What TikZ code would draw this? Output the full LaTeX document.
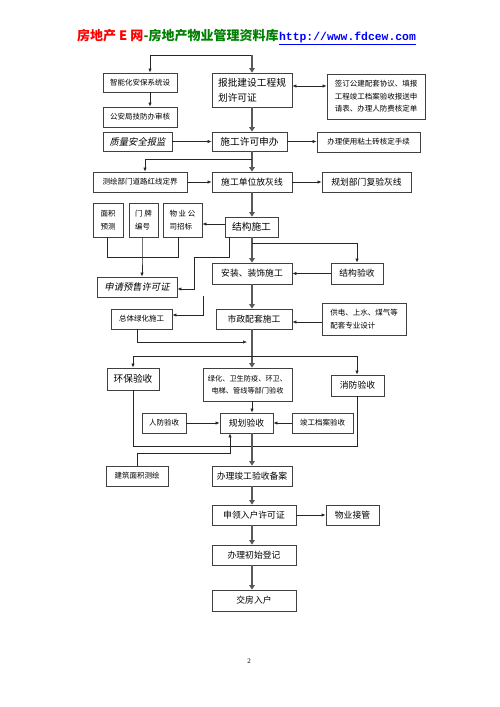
\documentclass[tikz,border=0pt]{standalone}
\usepackage{fontspec}
\setmainfont{Noto Sans CJK SC}
\newfontfamily\cjkit[FakeSlant=0.2]{Noto Sans CJK SC}
\newfontfamily\monof{Liberation Mono}
\newfontfamily\sernum{Liberation Serif}
\usetikzlibrary{arrows.meta,calc}
\tikzset{
  bx/.style={draw=black!75, line width=0.7pt, inner sep=1pt, align=center, fill=white},
  sm/.style={font=\fontsize{7.5}{12.5}\selectfont},
  md/.style={font=\fontsize{8.8}{12.5}\selectfont},
  lg/.style={font=\fontsize{9.7}{15}\selectfont},
  itl/.style={font=\cjkit\fontsize{9.3}{12}\selectfont},
  ln/.style={draw=black!85, line width=0.6pt},
  arr/.style={-{Latex[length=4pt,width=3.2pt]}},
  darr/.style={{Latex[length=4pt,width=3.2pt]}-{Latex[length=4pt,width=3.2pt]}},
  thk/.style={draw=black!65, line width=2.2pt, -{Triangle[length=4.5pt,width=5.5pt]}},
}
\newcommand\bx[7]{\node[bx,#7,minimum width={(#4-#2)*1pt},minimum height={(#5-#3)*1pt}] (#1) at ({(#2+#4)/2},{(#3+#5)/2}) {#6};}
\begin{document}
\begin{tikzpicture}[x=1pt,y=-1pt]
\fill[white] (0,0) rectangle (500,707);
\useasboundingbox (0,0) rectangle (500,707);
% header
\node[anchor=base west, inner sep=0, text=red, font=\bfseries\fontsize{13}{13}\selectfont] (hd1) at (77,40) {房地产 E 网};
\node[anchor=base west, inner sep=0, text={rgb,255:red,0;green,128;blue,0}, font=\bfseries\fontsize{13}{13}\selectfont] (hd2) at (hd1.base east) {-房地产物业管理资料库};
\node[anchor=base west, inner sep=0, text=blue, font=\monof\bfseries\fontsize{11.4}{13}\selectfont] (hd3) at (hd2.base east) {\underline{http://www.fdcew.com}};
% boxes
\bx{A}{103}{73}{177}{92}{智能化安保系统设}{sm}
\bx{B}{103}{107}{177}{127}{公安局技防办审核}{sm}
\bx{C}{212}{73}{292}{107}{报批建设工程规\\划许可证}{lg,align=left}
\bx{D}{327}{74}{425}{119}{签订公建配套协议、填报\\工程竣工档案验收报送申\\请表、办理人防费核定单}{sm}
\bx{E}{103}{132}{172}{151}{质量安全报监}{itl}
\bx{F}{212}{132}{287}{151}{施工许可申办}{lg}
\bx{G}{317}{132}{420}{152}{办理使用粘土砖核定手续}{sm}
\bx{H}{93}{172}{187}{192}{测绘部门道路红线定界}{sm}
\bx{I}{212}{172}{292}{192}{施工单位放灰线}{md}
\bx{J}{322}{172}{411}{192}{规划部门复验灰线}{md}
\bx{K1}{93}{203}{123}{237}{面积\\预测}{sm,font=\fontsize{7.5}{13.5}\selectfont}
\bx{K2}{129}{203}{158}{237}{门 牌\\编号}{sm,align=left,font=\fontsize{7.5}{13.5}\selectfont}
\bx{K3}{163}{203}{202}{237}{物 业 公\\司招标}{sm,align=left,font=\fontsize{7.5}{13.5}\selectfont}
\bx{L}{225}{217}{278}{237}{结构施工}{lg}
\bx{M}{97}{277}{177}{297}{申请预售许可证}{itl}
\bx{N}{212}{263}{292}{284}{安装、装饰施工}{md}
\bx{O}{331}{263}{383}{284}{结构验收}{md}
\bx{P}{111}{309}{172}{329}{总体绿化施工}{sm}
\bx{Q}{216}{309}{292}{329}{市政配套施工}{md}
\bx{R}{322}{303}{406}{335}{供电、上水、煤气等\\配套专业设计}{sm,align=left}
\bx{S}{107}{368}{159}{390}{环保验收}{lg}
\bx{T}{203}{368}{292}{401}{绿化、卫生防疫、环卫、\\电梯、管线等部门验收}{sm,font=\fontsize{7.2}{12.5}\selectfont}
\bx{U}{331}{375}{384}{396}{消防验收}{md}
\bx{V}{142}{413}{186}{433}{人防验收}{sm}
\bx{W}{220}{413}{273}{433}{规划验收}{md}
\bx{X}{292}{413}{353}{433}{竣工档案验收}{sm}
\bx{Y}{106}{466}{168}{486}{建筑面积测绘}{sm}
\bx{Z}{212}{466}{292}{486}{办理竣工验收备案}{md}
\bx{AA}{212}{505}{296}{525}{申领入户许可证}{md}
\bx{AB}{326}{505}{379}{525}{物业接管}{md}
\bx{AC}{212}{545}{296}{565}{办理初始登记}{md}
\bx{AD}{212}{590}{296}{611}{交房入户}{md}
\node[font=\sernum\fontsize{7}{8}\selectfont] (pg) at (249,661) {2};
% connectors
\coordinate (t1) at (150,55);
\coordinate (t2) at (252,55);
\draw[ln] (t1) -- (t2);
\draw[ln,arr] (t1) -- (t1 |- A.north);
\draw[thk] (t2) -- (t2 |- C.north);
\draw[ln,arr] (t1 |- A.south) -- (t1 |- B.north);
\coordinate (yCD) at (0,86);
\draw[ln,darr] (C.east |- yCD) -- (D.west |- yCD);
\draw[thk] (t2 |- C.south) -- (t2 |- F.north);
\draw[ln,arr] (E.east) -- (E.east -| F.west);
\draw[ln,arr] (F.east) -- (F.east -| G.west);
\draw[thk] (t2 |- F.south) -- (t2 |- I.north);
\coordinate (b1) at (252,159);
\coordinate (b2) at (145,159);
\draw[ln,arr] (b1) -- (b2) -- (b2 |- H.north);
\draw[ln,arr] (H.east) -- (H.east -| I.west);
\draw[ln,arr] (I.east) -- (I.east -| J.west);
\draw[thk] (t2 |- I.south) -- (t2 |- L.north);
\coordinate (yLK) at (0,224);
\draw[ln,arr] (L.west |- yLK) -- (K3.east |- yLK);
\coordinate (k1) at (107,257);
\coordinate (k2) at (142,257);
\coordinate (k3) at (178,257);
\draw[ln] (k1 |- K1.south) -- (k1) -- (k3) -- (k3 |- K3.south);
\draw[ln,arr] (k2 |- K2.south) -- (k2) -- (k2 |- M.north);
\coordinate (l1) at (229,257);
\coordinate (l2) at (194,257);
\coordinate (l3) at (194,289);
\draw[ln,arr] (l1 |- L.south) -- (l1) -- (l2) -- (l3) -- (l3 -| M.east);
\draw[thk] (t2 |- L.south) -- (t2 |- N.north);
\coordinate (b3) at (252,243);
\coordinate (b4) at (357,243);
\draw[ln,arr] (b3) -- (b4) -- (b4 |- O.north);
\draw[ln,arr] (O.west) -- (O.west -| N.east);
\draw[thk] (t2 |- N.south) -- (t2 |- Q.north);
\coordinate (f1) at (203,296);
\coordinate (f2) at (203,315);
\draw[ln,arr] (f1) -- (f2) -- (f2 -| P.east);
\coordinate (yRQ) at (0,322);
\draw[ln,arr] (R.west |- yRQ) -- (Q.east |- yRQ);
\coordinate (p1) at (137,342);
\coordinate (p2) at (247,342);
\draw[ln,arr] (p1 |- P.south) -- (p1) -- (p2);
\draw[thk] (t2 |- Q.south) -- (t2 |- T.north);
\coordinate (hh1) at (133,356);
\coordinate (hh2) at (357,356);
\draw[ln] (hh1) -- (hh2);
\draw[ln,arr] (hh1) -- (hh1 |- S.north);
\draw[ln,arr] (hh2) -- (hh2 |- U.north);
\draw[ln,arr] (t2 |- T.south) -- (t2 |- W.north);
\draw[ln,arr] (V.east) -- (V.east -| W.west);
\draw[ln,arr] (X.west) -- (X.west -| W.east);
\coordinate (u1) at (133,446);
\coordinate (u2) at (357,446);
\draw[ln] (u1 |- S.south) -- (u1) -- (u2) -- (u2 |- U.south);
\coordinate (y1) at (137,453);
\coordinate (y2) at (230,453);
\draw[ln,arr] (y1 |- Y.north) -- (y1) -- (y2) -- (y2 |- W.south);
\draw[thk] (t2 |- W.south) -- (t2 |- Z.north);
\draw[thk] (t2 |- Z.south) -- (t2 |- AA.north);
\draw[ln,arr] (AA.east) -- (AA.east -| AB.west);
\draw[thk] (t2 |- AA.south) -- (t2 |- AC.north);
\draw[thk] (t2 |- AC.south) -- (t2 |- AD.north);
\end{tikzpicture}
\end{document}
